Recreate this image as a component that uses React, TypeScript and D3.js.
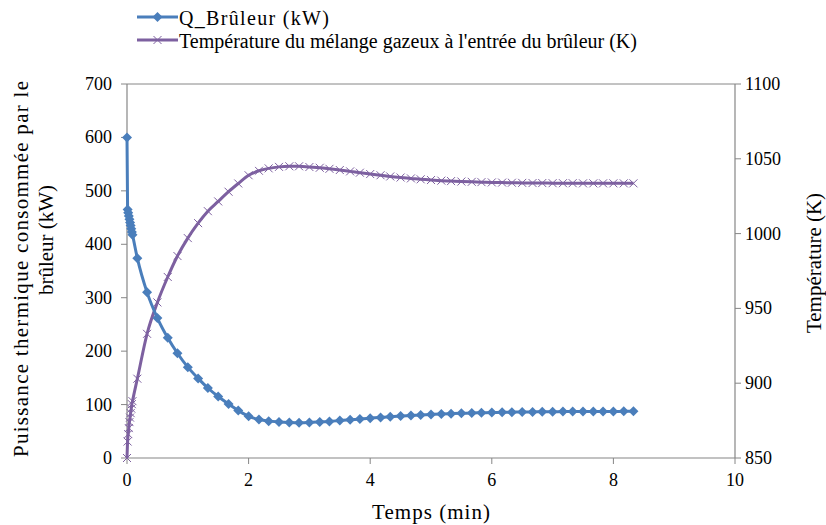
import React from "react";
import * as d3 from "d3";

const timeMin = [
  0, 0.01, 0.02, 0.03, 0.04, 0.05, 0.06, 0.07, 0.08, 0.09,
  0.17, 0.33, 0.5, 0.67, 0.83, 1.0, 1.17, 1.33, 1.5, 1.67,
  1.83, 2.0, 2.17, 2.33, 2.5, 2.67, 2.83, 3.0, 3.17, 3.33,
  3.5, 3.67, 3.83, 4.0, 4.17, 4.33, 4.5, 4.67, 4.83, 5.0,
  5.17, 5.33, 5.5, 5.67, 5.83, 6.0, 6.17, 6.33, 6.5, 6.67,
  6.83, 7.0, 7.17, 7.33, 7.5, 7.67, 7.83, 8.0, 8.17, 8.33,
];

const qBurner = [
  600, 465, 459, 453, 447, 441, 435, 429, 423, 418,
  374, 310, 262, 225, 196, 170, 149, 131, 115, 101,
  89, 78, 72, 69, 67.5, 66.5, 66, 66.5, 67.5, 68.5,
  70, 71.5, 73, 74.5, 76, 77.3, 78.5, 79.6, 80.6, 81.5,
  82.3, 83, 83.6, 84.2, 84.7, 85.1, 85.5, 85.8, 86.1, 86.3,
  86.5, 86.7, 86.8, 86.9, 87, 87.1, 87.2, 87.2, 87.3, 87.3,
];

const tempGas = [
  850, 861, 866, 870, 874, 877, 880, 883, 886, 888,
  903, 933, 954, 971, 985, 997, 1007, 1015, 1021.5, 1028,
  1033.5, 1039, 1042, 1043.6, 1044.6, 1045, 1045, 1044.5, 1044, 1043.3,
  1042.5, 1041.6, 1040.7, 1039.8, 1039, 1038.2, 1037.5, 1036.9, 1036.3, 1035.8,
  1035.4, 1035.1, 1034.8, 1034.6, 1034.4, 1034.2, 1034.1, 1034, 1033.9, 1033.8,
  1033.8, 1033.7, 1033.7, 1033.7, 1033.6, 1033.6, 1033.6, 1033.6, 1033.6, 1033.6,
];

const xTicks = [0, 2, 4, 6, 8, 10];
const yLeftTicks = [0, 100, 200, 300, 400, 500, 600, 700];
const yRightTicks = [850, 900, 950, 1000, 1050, 1100];

const legendLabels = [
  "Q_Brûleur (kW)",
  "Température du mélange gazeux à l'entrée du brûleur  (K)",
];
const xTitle = "Temps (min)";
const yLeftTitle = ["Puissance  thermique consommée par le", "brûleur (kW)"];
const yRightTitle = "Température (K)";

const BLUE = "#4a7ebb";
const PURPLE = "#7d60a0";
const AXIS = "#868686";
const FONT = "'Liberation Serif', 'Times New Roman', serif";

export default function App() {
  const W = 826, H = 525;
  const L = 127, R = 735, T = 84, B = 458;
  const x = d3.scaleLinear().domain([0, 10]).range([L, R]);
  const yL = d3.scaleLinear().domain([0, 700]).range([B, T]);
  const yR = d3.scaleLinear().domain([850, 1100]).range([B, T]);

  const idx = d3.range(timeMin.length);
  const qLine = d3.line<number>().x(i => x(timeMin[i])).y(i => yL(qBurner[i])).curve(d3.curveMonotoneX)(idx) || "";
  const tLine = d3.line<number>().x(i => x(timeMin[i])).y(i => yR(tempGas[i])).curve(d3.curveMonotoneX)(idx) || "";

  const diamond = (cx: number, cy: number, r: number) =>
    `M${cx},${cy - r}L${cx + r},${cy}L${cx},${cy + r}L${cx - r},${cy}Z`;
  const cross = (cx: number, cy: number, r: number) =>
    `M${cx - r},${cy - r}L${cx + r},${cy + r}M${cx - r},${cy + r}L${cx + r},${cy - r}`;

  return (
    <svg width={W} height={H} style={{ position: "absolute", left: 0, top: 0, background: "#fff" }} fontFamily={FONT}>
      <rect x={0} y={0} width={W} height={H} fill="#fff" />
      <line x1={L} x2={R} y1={T} y2={T} stroke={AXIS} strokeWidth={1} />
      <line x1={L} x2={L} y1={T} y2={B} stroke={AXIS} strokeWidth={1.2} />
      <line x1={R} x2={R} y1={T} y2={B} stroke={AXIS} strokeWidth={1.2} />
      <line x1={L} x2={R} y1={B} y2={B} stroke={AXIS} strokeWidth={1.2} />
      {xTicks.map(t => (
        <g key={"x" + t}>
          <line x1={x(t)} x2={x(t)} y1={B} y2={B + 6} stroke={AXIS} />
          <text x={x(t)} y={486} fontSize={18} textAnchor="middle" fill="#000">{t}</text>
        </g>
      ))}
      {yLeftTicks.map(t => (
        <g key={"yl" + t}>
          <line x1={L - 6} x2={L} y1={yL(t)} y2={yL(t)} stroke={AXIS} />
          <text x={112} y={yL(t) + 6} fontSize={18} textAnchor="end" fill="#000">{t}</text>
        </g>
      ))}
      {yRightTicks.map(t => (
        <g key={"yr" + t}>
          <line x1={R} x2={R + 6} y1={yR(t)} y2={yR(t)} stroke={AXIS} />
          <text x={745} y={yR(t) + 6} fontSize={18} textAnchor="start" fill="#000">{t}</text>
        </g>
      ))}
      <path d={tLine} fill="none" stroke={PURPLE} strokeWidth={3} />
      {idx.map(i => (
        <path key={"t" + i} d={cross(x(timeMin[i]), yR(tempGas[i]), 4)} stroke={PURPLE} strokeWidth={1} fill="none" />
      ))}
      <path d={qLine} fill="none" stroke={BLUE} strokeWidth={3} />
      {idx.map(i => (
        <path key={"q" + i} d={diamond(x(timeMin[i]), yL(qBurner[i]), 5)} fill={BLUE} />
      ))}
      <text x={431} y={519} fontSize={21} textAnchor="middle" textLength={118} lengthAdjust="spacing" fill="#000">{xTitle}</text>
      <text transform="translate(28,269) rotate(-90)" fontSize={21} textAnchor="middle" textLength={376} lengthAdjust="spacing" fill="#000">{yLeftTitle[0]}</text>
      <text transform="translate(53,240) rotate(-90)" fontSize={21} textAnchor="middle" fill="#000">{yLeftTitle[1]}</text>
      <text transform="translate(821,263) rotate(-90)" fontSize={21} textAnchor="middle" fill="#000">{yRightTitle}</text>
      <line x1={137} x2={178} y1={17} y2={17} stroke={BLUE} strokeWidth={3} />
      <path d={diamond(157.5, 17, 5)} fill={BLUE} />
      <text x={179} y={25} fontSize={20} textLength={150} lengthAdjust="spacing" fill="#000">{legendLabels[0]}</text>
      <line x1={137} x2={178} y1={40} y2={40} stroke={PURPLE} strokeWidth={3} />
      <path d={cross(157.5, 40, 4)} stroke={PURPLE} strokeWidth={1} fill="none" />
      <text x={179} y={48} fontSize={20} textLength={458} lengthAdjust="spacing" fill="#000">{legendLabels[1]}</text>
    </svg>
  );
}
